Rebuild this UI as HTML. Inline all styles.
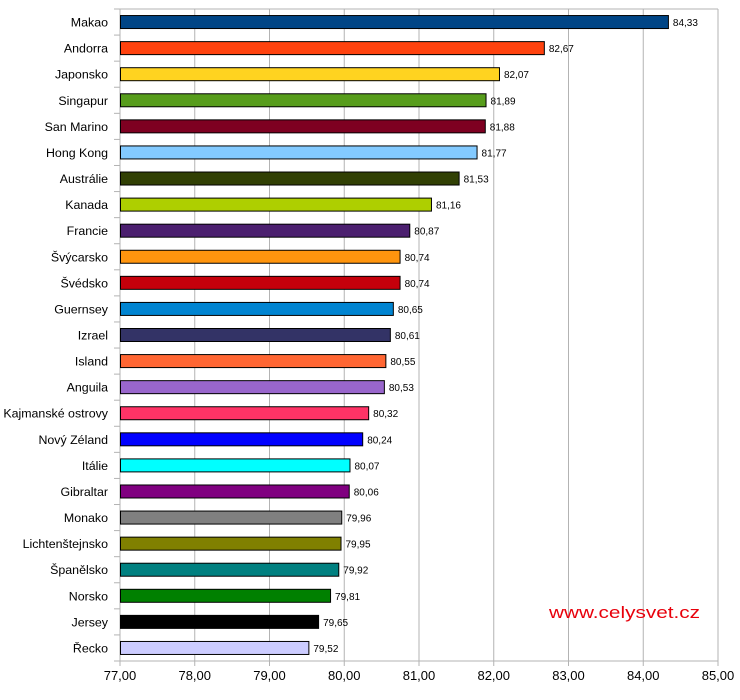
<!DOCTYPE html>
<html><head><meta charset="utf-8"><style>body{margin:0;background:#fff}svg{display:block}</style></head><body>
<svg id="chart" width="740" height="700" xmlns="http://www.w3.org/2000/svg" font-family="Liberation Sans, sans-serif">
<rect width="740" height="700" fill="#fff"/>
<g id="gg"></g>
</svg>
<script>
(function(){
var data=[["Makao",84.33,"#004586"],["Andorra",82.67,"#ff420e"],["Japonsko",82.07,"#ffd320"],["Singapur",81.89,"#579d1c"],["San Marino",81.88,"#7e0021"],["Hong Kong",81.77,"#83caff"],["Austrálie",81.53,"#314004"],["Kanada",81.16,"#aecf00"],["Francie",80.87,"#4b1f6f"],["Švýcarsko",80.74,"#ff950e"],["Švédsko",80.74,"#c5000b"],["Guernsey",80.65,"#0084d1"],["Izrael",80.61,"#333366"],["Island",80.55,"#ff6633"],["Anguila",80.53,"#9966cc"],["Kajmanské ostrovy",80.32,"#ff3366"],["Nový Zéland",80.24,"#0000ff"],["Itálie",80.07,"#00ffff"],["Gibraltar",80.06,"#800080"],["Monako",79.96,"#808080"],["Lichtenštejnsko",79.95,"#808000"],["Španělsko",79.92,"#008080"],["Norsko",79.81,"#008000"],["Jersey",79.65,"#000000"],["Řecko",79.52,"#ccccff"]];
function X(v){return 120+(v-77)*74.75;}
var s='';
var T0=9,B0=661,rh=(B0-T0)/25;
for(var v=77;v<=85;v++){var x=X(v);s+='<line x1="'+x+'" y1="'+T0+'" x2="'+x+'" y2="'+(B0+5)+'" stroke="#b3b3b3"/>';s+='<text x="'+x+'" y="680" font-size="13" text-anchor="middle" fill="#000">'+v+',00</text>';}
s+='<line x1="114" y1="'+T0+'" x2="718" y2="'+T0+'" stroke="#b3b3b3"/>';
s+='<line x1="114" y1="'+B0+'" x2="718" y2="'+B0+'" stroke="#b3b3b3"/>';
s+='<line x1="120" y1="'+T0+'" x2="120" y2="'+B0+'" stroke="#b3b3b3"/>';
for(var i=0;i<=25;i++){var y=T0+i*rh;s+='<line x1="114" y1="'+y+'" x2="120" y2="'+y+'" stroke="#b3b3b3"/>';}
data.forEach(function(r,i){var c=T0+(i+0.5)*rh;var w=X(r[1])-120;
s+='<rect x="120.5" y="'+(c-6.5)+'" width="'+w+'" height="13" fill="'+r[2]+'" stroke="#000" stroke-width="1"/>';
s+='<text x="108" y="'+(c+4.5)+'" font-size="12.4" text-anchor="end" fill="#000">'+r[0]+'</text>';
s+='<text x="'+(X(r[1])+5)+'" y="'+(c+4)+'" font-size="10" fill="#000">'+r[1].toFixed(2).replace('.',',')+'</text>';});
s+='<text x="549" y="618" font-size="17" fill="#e8000b" textLength="151" lengthAdjust="spacingAndGlyphs">www.celysvet.cz</text>';
document.getElementById('gg').innerHTML=s;
})();
</script>
</body></html>
